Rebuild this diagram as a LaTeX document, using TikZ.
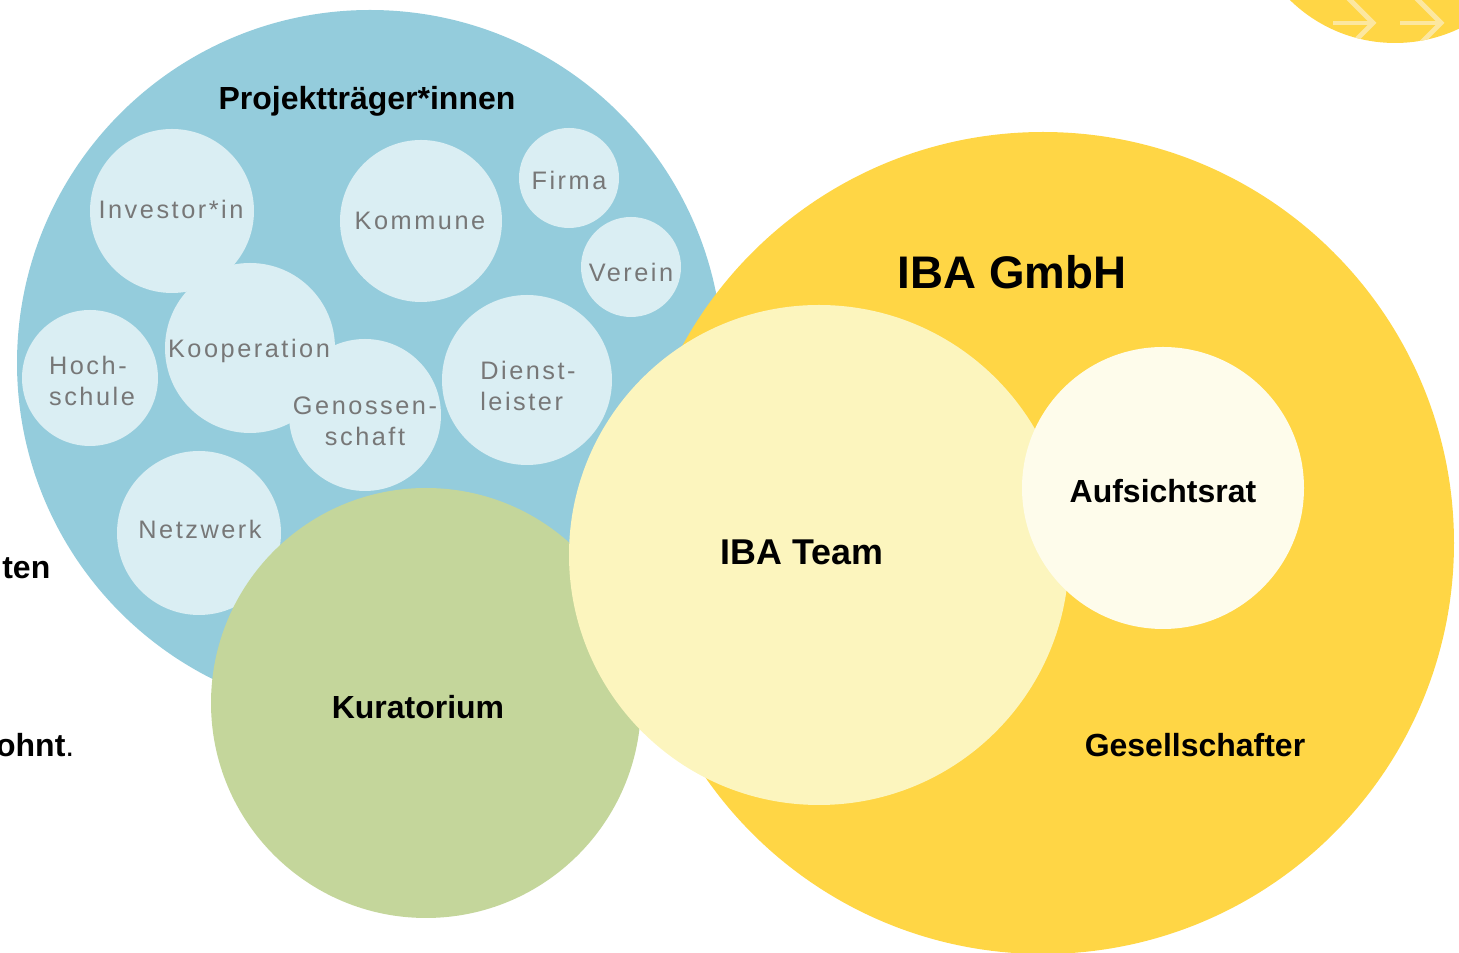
\documentclass[tikz,border=0pt]{standalone}
\usepackage{fontspec}
\setmainfont{Liberation Sans}
\newfontfamily\spaced[LetterSpace=10]{Liberation Sans}
\usetikzlibrary{positioning}
\definecolor{blau}{HTML}{94CCDC}
\definecolor{hellblau}{HTML}{DAEEF3}
\definecolor{gruen}{HTML}{C4D69B}
\definecolor{gelb}{HTML}{FFD645}
\definecolor{hellgelb}{HTML}{FCF5BE}
\definecolor{weissgelb}{HTML}{FEFCEB}
\definecolor{pfeilgelb}{HTML}{FCE7A0}
\definecolor{grau}{HTML}{777777}
\tikzset{bubble/.style = {circle, inner sep = 0, minimum size = #1*0.2mm}}
\tikzset{klein/.style = {fill = hellblau}}
\tikzset{kleintext/.style = {text = grau, inner sep = 0,
                             font = \spaced\fontsize{7.2}{8.8}\selectfont, align = center}}
\tikzset{titel/.style = {font = \bfseries\fontsize{9.1}{11}\selectfont}}
\tikzset{pfeil/.style = {draw = pfeilgelb, line width = 1.4pt}}

\begin{document}
\begin{tikzpicture}[x=0.1mm, y=-0.1mm]
      \useasboundingbox (0, 0) rectangle (1459, 953);
      % Projekttraeger
      \node (projekt) at (370, 363) [bubble=353, fill=blau] {};
      \node (projekttitel) at (367, 101) [titel] {Projektträger*innen};
      \node (investor) at (172, 211) [bubble=82, klein] {};
      \node (kommune) at (421, 221) [bubble=81, klein] {};
      \node (firma) at (569, 178) [bubble=50, klein] {};
      \node (verein) at (631, 267) [bubble=50, klein] {};
      \node (hochschule) at (90, 378) [bubble=68, klein] {};
      \node (kooperation) at (250, 348) [bubble=85, klein] {};
      \node (genossenschaft) at (365, 415) [bubble=76, klein] {};
      \node (dienstleister) at (527, 380) [bubble=85, klein] {};
      \node (netzwerk) at (199, 533) [bubble=82, klein] {};
      \node at (171, 209) [kleintext] {Investor*in};
      \node at (420, 221) [kleintext] {Kommune};
      \node at (569, 180) [kleintext] {Firma};
      \node at (631, 272) [kleintext] {Verein};
      \node at (92, 381) [kleintext, align=left] {Hoch-\\schule};
      \node at (249, 351) [kleintext] {Kooperation};
      \node at (365, 421) [kleintext] {Genossen-\\schaft};
      \node at (528, 386) [kleintext, align=left] {Dienst-\\leister};
      \node at (200, 529) [kleintext] {Netzwerk};
      % Kuratorium
      \node (kuratorium) at (426, 703) [bubble=215, fill=gruen] {};
      \node at (418, 707) [titel] {Kuratorium};
      % IBA GmbH
      \node (gmbh) at (1043, 543) [bubble=411, fill=gelb] {};
      \node (gmbhtitel) at (1012, 272) [font=\bfseries\fontsize{13}{15}\selectfont] {IBA GmbH};
      \node (team) at (819, 555) [bubble=250, fill=hellgelb] {};
      \node at (802, 552) [font=\bfseries\fontsize{10.2}{12}\selectfont] {IBA Team};
      \node (aufsichtsrat) at (1163, 488) [bubble=141, fill=weissgelb] {};
      \node at (1163, 491) [titel] {Aufsichtsrat};
      \node (gesellschafter) at (1195, 745) [titel] {Gesellschafter};
      % Rand
      \node (deko) at (1395, -107) [bubble=150, fill=gelb] {};
      \begin{scope}
        \clip (deko) circle (15mm);
        \draw [pfeil] (1333, 23) -- (1373, 23);
        \draw [pfeil] (1343, -7) -- (1373, 23) -- (1343, 53);
        \draw [pfeil] (1400, 23) -- (1441, 23);
        \draw [pfeil] (1411, -7) -- (1441, 23) -- (1411, 53);
      \end{scope}
      \node (ten) at (51, 568) [titel, anchor=east, inner sep=0] {ten};
      \node (ohnt) at (75, 745) [titel, anchor=east, inner sep=0] {ohnt\mdseries.};
    \end{tikzpicture}
\end{document}
